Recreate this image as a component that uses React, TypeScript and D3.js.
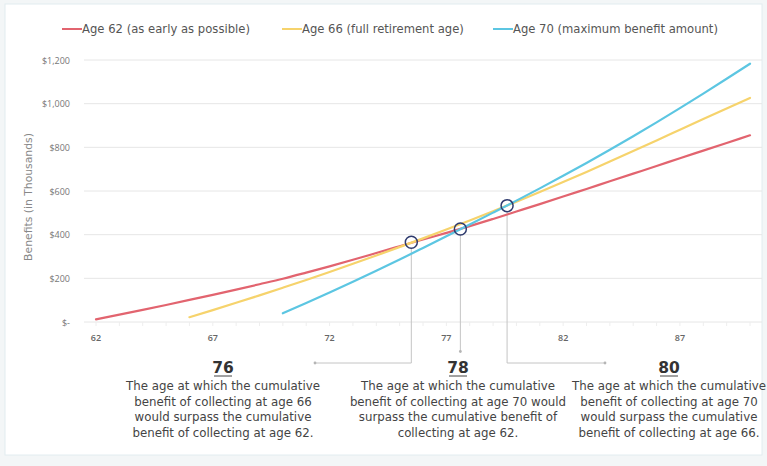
import React from "react";
import * as d3 from "d3";

// cumulative benefits, in thousands of dollars
const agesFrom62 = [62, 63, 64, 65, 66, 67, 68, 69, 70, 71, 72, 73, 74, 75, 76, 77, 78, 79, 80, 81, 82, 83, 84, 85, 86, 87, 88, 89, 90];
const claim62 = [12, 33.5, 55.5, 78, 101, 124.5, 148.5, 173, 198, 226, 255, 285, 316, 347, 378, 408, 439, 472, 506, 540, 574.5, 609.5, 644.5, 679.5, 714.5, 750, 785, 820, 855];

const agesFrom66 = [66, 67, 68, 69, 70, 71, 72, 73, 74, 75, 76, 77, 78, 79, 80, 81, 82, 83, 84, 85, 86, 87, 88, 89, 90];
const claim66 = [22, 54.5, 88, 122, 157, 192.5, 229, 266.5, 304.5, 343.5, 383, 423.5, 465, 507.5, 551, 595.5, 641, 687.5, 735, 783, 831.5, 880.5, 929.5, 978, 1026];

const agesFrom70 = [70, 71, 72, 73, 74, 75, 76, 77, 78, 79, 80, 81, 82, 83, 84, 85, 86, 87, 88, 89, 90];
const claim70 = [40, 87, 135, 184, 234.5, 286, 339, 392.5, 446.5, 501, 556, 612, 669.5, 728.5, 789, 851, 914.5, 979.5, 1046, 1114, 1183];

const seriesLabels = [
  "Age 62 (as early as possible)",
  "Age 66 (full retirement age)",
  "Age 70 (maximum benefit amount)",
];
const seriesColors = ["#e2646f", "#f6d36c", "#5cc6e2"];

const xTicks = [62, 67, 72, 77, 82, 87];
const yTicks = [0, 200, 400, 600, 800, 1000, 1200];

// break-even points
const crossAges = [75.5, 77.6, 79.6];
const crossValues = [365, 426, 533];
const crossTitles = ["76", "78", "80"];
const crossNotes = [
  [
    "The age at which the cumulative",
    "benefit of collecting at age 66",
    "would surpass the cumulative",
    "benefit of collecting at age 62.",
  ],
  [
    "The age at which the cumulative",
    "benefit of collecting at age 70 would",
    "surpass the cumulative benefit of",
    "collecting at age 62.",
  ],
  [
    "The age at which the cumulative",
    "benefit of collecting at age 70",
    "would surpass the cumulative",
    "benefit of collecting at age 66.",
  ],
];

const W = 767;
const H = 466;
const font = "'DejaVu Sans', sans-serif";
const tickFont = "'Open Sans', sans-serif";

const App = () => {
  const x = d3.scaleLinear().domain([62, 90]).range([96, 750]);
  const y = d3.scaleLinear().domain([0, 1200]).range([322, 60]);

  const line = d3
    .line<[number, number]>()
    .x((d) => x(d[0]))
    .y((d) => y(d[1]))
    .curve(d3.curveMonotoneX);

  const series = [
    { ages: agesFrom62, values: claim62 },
    { ages: agesFrom66, values: claim66 },
    { ages: agesFrom70, values: claim70 },
  ];

  const legendX = [62, 282, 493];
  const noteCenters = [223, 458, 669];
  const connectorEnd = [315, null, 605];
  const connectorY = 363;

  const fmt = (v: number) => (v === 0 ? "$-" : "$" + d3.format(",")(v));

  return (
    <svg
      width={W}
      height={H}
      style={{ position: "absolute", left: 0, top: 0, display: "block" }}
      fontFamily={font}
    >
      <rect x={0} y={0} width={W} height={H} fill="#f3f6f7" />
      <rect x={5} y={4} width={757} height={451} fill="#ffffff" stroke="#e2ecf0" />

      {/* legend */}
      {seriesLabels.map((label, i) => (
        <g key={label}>
          <line x1={legendX[i]} x2={legendX[i] + 20} y1={29} y2={29} stroke={seriesColors[i]} strokeWidth={2} />
          <text x={legendX[i] + 20} y={33} fontSize={11.6} fill="#555" textLength={i === 0 ? 168 : undefined}>
            {label}
          </text>
        </g>
      ))}

      {/* grid + y axis */}
      {yTicks.map((t) => (
        <g key={t}>
          <line x1={84} x2={762} y1={y(t)} y2={y(t)} stroke="#e6e6e6" strokeWidth={1} />
          <text x={70} y={y(t) + 3.5} fontSize={9} fill="#777" textAnchor="end" fontFamily={tickFont}>
            {fmt(t)}
          </text>
        </g>
      ))}
      <text
        transform={`translate(32,${(y(0) + y(1200)) / 2 + 6}) rotate(-90)`}
        fontSize={10.8}
        fill="#888"
        textAnchor="middle"
      >
        Benefits (in Thousands)
      </text>

      {/* x axis */}
      {agesFrom62.map((a) => (
        <line key={a} x1={x(a)} x2={x(a)} y1={y(0)} y2={y(0) + 4} stroke="#eeeeee" />
      ))}
      {xTicks.map((t) => (
        <text key={t} x={x(t)} y={341} fontSize={9} fontWeight={600} fill="#666" textAnchor="middle" fontFamily={tickFont}>
          {t}
        </text>
      ))}

      {/* connectors */}
      {crossAges.map((a, i) => {
        const cx = x(a);
        const cy = y(crossValues[i]);
        const end = connectorEnd[i];
        if (end === null) {
          return (
            <g key={a}>
              <line x1={cx} x2={cx} y1={cy + 6} y2={351} stroke="#c4c4c4" />
              <circle cx={cx} cy={351.5} r={1.4} fill="#b5b5b5" />
            </g>
          );
        }
        return (
          <g key={a}>
            <polyline
              points={`${cx},${cy + 6} ${cx},${connectorY} ${end},${connectorY}`}
              fill="none"
              stroke="#c4c4c4"
            />
            <circle cx={end} cy={connectorY} r={1.4} fill="#b5b5b5" />
          </g>
        );
      })}

      {/* lines */}
      {series.map((s, i) => (
        <path
          key={i}
          d={line(s.ages.map((a, j) => [a, s.values[j]] as [number, number])) || ""}
          fill="none"
          stroke={seriesColors[i]}
          strokeWidth={2.2}
          strokeLinecap="round"
        />
      ))}

      {/* break-even circles */}
      {crossAges.map((a, i) => (
        <circle key={a} cx={x(a)} cy={y(crossValues[i])} r={6} fill="none" stroke="#2f3b6e" strokeWidth={1.5} />
      ))}

      {/* notes */}
      {crossTitles.map((t, i) => (
        <g key={t}>
          <text x={noteCenters[i]} y={373} fontSize={15.5} fontWeight={700} fill="#333" textAnchor="middle">
            {t}
          </text>
          <line x1={noteCenters[i] - 9} x2={noteCenters[i] + 9} y1={376} y2={376} stroke="#444" strokeWidth={1} />
          {crossNotes[i].map((l, k) => (
            <text key={k} x={noteCenters[i]} y={390 + k * 15.6} fontSize={11.8} fill="#444" textAnchor="middle">
              {l}
            </text>
          ))}
        </g>
      ))}
    </svg>
  );
};

export default App;
